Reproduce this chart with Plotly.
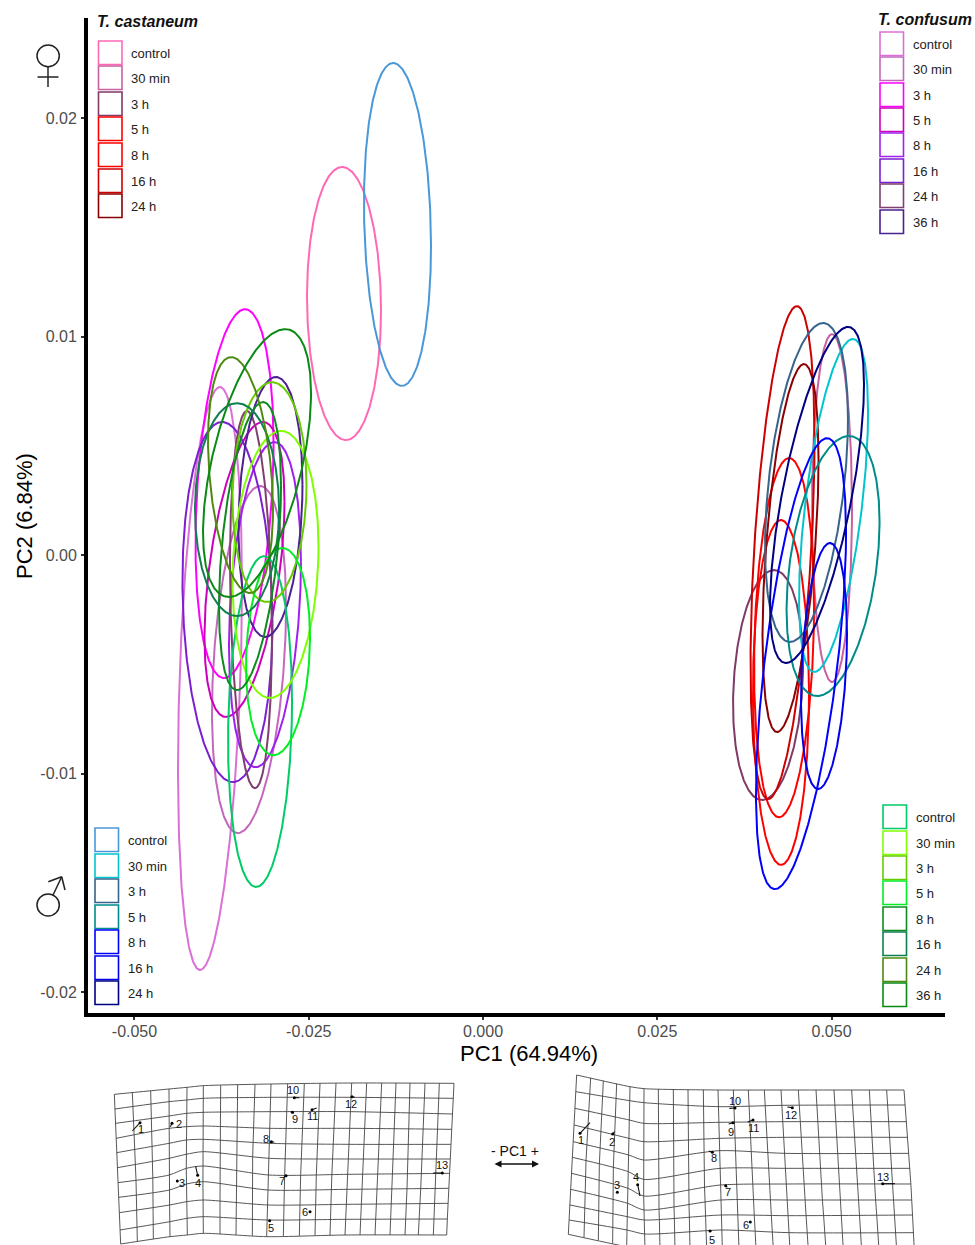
import numpy as np
import plotly.graph_objects as go

# ---------- ellipses (PC1 centre, PC2 centre, half width, half height, correlation, colour) ----------
names = ["Tcas control F","Tcas control M",
 "Tcon control","Tcon 30 min","Tcon 3 h","Tcon 5 h","Tcon 8 h","Tcon 16 h","Tcon 24 h","Tcon 36 h",
 "Tx control","Tx 30 min","Tx 3 h","Tx 5 h","Tx 8 h","Tx 16 h","Tx 24 h","Tx 36 h",
 "Tcas F 30 min","Tcas F 3 h","Tcas F 5 h","Tcas F 8 h","Tcas F 16 h","Tcas F 24 h",
 "Tcas M 30 min","Tcas M 3 h","Tcas M 5 h","Tcas M 8 h","Tcas M 16 h","Tcas M 24 h"]
pc1_centre = [-.01994,-.01227,
 -.03917,-.03357,-.03565,-.03422,-.03128,-.03666,-.03329,-.03049,
 -.03199,-.02977,-.03063,-.02941,-.03343,-.03529,-.03479,-.03242,
 .05007,.04089,.04319,.04275,.04297,.04412,
 .05029,.04641,.05022,.04562,.04892,.04792]
pc2_centre = [.01151,.01513,
 -.00565,-.00478,.00281,-.00066,-.00227,-.00215,-.00204,.00220,
 -.00762,-.00043,.00288,-.00442,.00041,.00208,.00366,.00421,
 .00215,-.00595,-.00378,-.00629,.00011,.00032,
 .00227,.00332,-.00050,-.00497,-.00508,.00275]
pc1_half = [.00531,.00481,
 .00459,.00531,.00560,.00574,.00516,.00646,.00301,.00459,
 .00459,.00617,.00531,.00459,.00445,.00603,.00466,.00775,
 .00287,.00502,.00430,.00402,.00459,.00402,
 .00495,.00595,.00667,.00646,.00330,.00674]
pc2_half = [.00625,.00739,
 .01334,.00794,.00844,.00675,.00744,.00824,.00863,.00595,
 .00757,.00611,.00503,.00474,.00659,.00487,.00540,.00613,
 .00796,.00526,.00822,.00789,.01128,.00842,
 .00762,.00730,.00595,.01032,.00563,.00769]
corr = [-.05,-.13,
 .31,.30,.27,.46,.26,-.12,-.19,.17,
 .12,.13,.07,.14,.42,0,-.29,.52,
 0,.17,.17,0,.45,.48,
 .56,.40,.34,.58,.26,.66]
PINK,SKY = "#FF69B4","#4A98D8"
TCON = ["#DA70D6","#C468BE","#FF00FF","#CC00BB","#A020F0","#7B1FD0","#7F4070","#4B2090"]
TX = ["#00CC66","#7FFF00","#66CC00","#00EE22","#0E8A1E","#0F7F50","#4E8A10","#0A8A14"]
TF = ["#C9609F","#7F3A66","#FF0000","#FF0000","#CC0000","#8B0000"]
TM = ["#00C5CD","#36648B","#008B8B","#0000FF","#0000EE","#000080"]
colours = [PINK,SKY]+TCON+TX+TF+TM

# ---------- axis ----------
x_ticks = [-.05,-.025,0,.025,.05]
x_labels = ["-0.050","-0.025","0.000","0.025","0.050"]
y_ticks = [-.02,-.01,0,.01,.02]
y_labels = ["-0.02","-0.01","0.00","0.01","0.02"]

# ---------- legends (title, labels, colours, box left, box tops, text x) ----------
FONT = "Liberation Sans"
legends = [
 ("T. castaneum",(95,21),["control","30 min","3 h","5 h","8 h","16 h","24 h"],[PINK]+TF,98.5,
  [41,66,92,117,143,169,194],129),
 ("T. confusum",(876,19),["control","30 min","3 h","5 h","8 h","16 h","24 h","36 h"],TCON,880,
  [32,57,83,108,133,159,184,210],911),
 ("",(0,0),["control","30 min","3 h","5 h","8 h","16 h","24 h"],[SKY]+TM,95,
  [828,854,879,905,930,956,981],126),
 ("",(0,0),["control","30 min","3 h","5 h","8 h","16 h","24 h","36 h"],TX,883,
  [805,831,856,881,907,932,958,983],914),
]

# ---------- deformation grids (in 3x crop coordinates of the panels) ----------
g1_off = (100,1060)
g1_top = [43,97,152,207,261,310,362,413,465,513,563,613,660,708,755,800,845,888,930,975,1018,1062]
g1_mid = [52,107,158,207,258,308,360,410,458,508,555,603,650,697,745,790,835,880,925,967,1010,1050]
g1_bot = [62,112,160,210,262,310,360,408,457,500,550,598,645,690,735,780,825,870,915,955,1000,1040]
g1_knots = [0,3,4,5,9,14,21]
g1_rows = [
 [103,87,82,77,72,69,70],
 [147,125,120,115,112,112,115],
 [190,168,160,157,155,155,162],
 [235,205,200,198,205,205,208],
 [278,250,240,238,250,253,253],
 [323,295,283,275,295,297,297],
 [368,345,325,318,345,343,340],
 [412,390,372,365,390,388,385],
 [458,435,425,420,435,433,430],
 [510,485,475,470,480,478,477],
 [552,530,525,520,530,525,525]]
g1_lm = [(120,188),(216,190),(232,363),(293,346),(509,482),(630,455),(558,347),(514,245),(577,157),(583,113),(636,149),(756,110),(1027,339)]
g1_vec = [(97,213),(211,200),(229,363),(287,319),(506,482),(630,455),(552,350),(523,247),(582,160),(598,113),(650,144),(764,112),(1000,339)]
g1_txt = [(122,208),(238,193),(247,369),(294,370),(513,504),(615,457),(545,364),(497,238),(585,176),(578,91),(637,167),(752,133),(1025,314)]

g2_off = (480,1060)
g2_top = [290,332,370,410,450,492,535,580,624,670,714,760,805,853,903,955,1008,1062,1115,1168,1220,1272]
g2_mid = [277,318,358,400,445,490,535,580,625,672,720,768,815,865,917,968,1020,1075,1130,1180,1235,1290]
g2_bot = [265,312,355,398,440,495,540,585,630,680,727,777,828,880,930,985,1038,1090,1145,1197,1250,1303]
g2_knots = [0,4,5,10,14,21]
g2_rows = [
 [45,80,86,90,90,90],
 [95,122,128,140,136,135],
 [145,180,190,187,185,185],
 [195,235,245,235,232,232],
 [245,285,300,272,280,280],
 [292,335,358,325,325,325],
 [340,385,408,375,372,372],
 [388,430,450,420,420,420],
 [435,470,480,465,467,465],
 [480,510,522,510,518,518],
 [523,560,568,565,570,570]]
g2_lm = [(300,220),(398,222),(412,397),(473,374),(690,513),(811,486),(737,377),(697,277),(759,188),(765,144),(819,180),(937,143),(1208,371)]
g2_vec = [(330,188),(404,215),(412,397),(480,408),(695,513),(811,486),(742,382),(686,273),(746,192),(748,145),(803,186),(922,141),(1245,371)]
g2_txt = [(304,240),(395,246),(411,374),(467,351),(695,540),(797,495),(744,397),(702,295),(754,215),(765,123),(820,205),(933,166),(1208,352)]

# ---------- sex symbols, drawn as line art ----------
female_circle = (37,45,59.3,66.7)
female_lines = [((48,67),(48,87)),((37.5,77),(58.5,77))]
male_circle = (37,894,59.3,916)
male_lines = [((52.7,895.7),(61.7,876.7)),((48.3,881.7),(61.7,876.7)),((61.7,876.7),(65,890))]

# ---------- build ----------
fig = go.Figure()
t = np.linspace(0,2*np.pi,361)
for n,cx,cy,rx,ry,r,c in zip(names,pc1_centre,pc2_centre,pc1_half,pc2_half,corr,colours):
    xs = cx+rx*np.cos(t)
    ys = cy+ry*(r*np.cos(t)+np.sqrt(1-r*r)*np.sin(t))
    fig.add_trace(go.Scatter(x=xs,y=ys,mode="lines",name=n,line=dict(color=c,width=2),hoverinfo="skip",showlegend=False))

GRID="#444444"
def add_grid(off,top,mid,bot,knots,rows,lm,vec,txt):
    ox,oy = off
    top,mid,bot = map(np.array,(top,mid,bot))
    nr = len(rows)
    rowpos = [0,(nr-1)/2,nr-1]
    cols = np.vstack([top,mid,bot])
    def colx(i,j):
        return np.interp(j,rowpos,cols[:,i])
    for j,row in enumerate(rows):
        xs=[ox+colx(i,j)/3 for i in knots]
        ys=[oy+v/3 for v in row]
        fig.add_trace(go.Scatter(x=xs,y=ys,xaxis="x2",yaxis="y2",mode="lines",
            line=dict(color=GRID,width=0.9,shape="spline",smoothing=0.7),hoverinfo="skip",showlegend=False))
    for i in range(len(top)):
        xs=[];ys=[]
        for j in range(nr):
            xs.append(ox+colx(i,j)/3)
            ys.append(oy+np.interp(i,knots,rows[j])/3)
        fig.add_trace(go.Scatter(x=xs,y=ys,xaxis="x2",yaxis="y2",mode="lines",
            line=dict(color=GRID,width=0.9),hoverinfo="skip",showlegend=False))
    for k,((x,y),(vx,vy),(tx,ty)) in enumerate(zip(lm,vec,txt)):
        fig.add_trace(go.Scatter(x=[ox+x/3,ox+vx/3],y=[oy+y/3,oy+vy/3],xaxis="x2",yaxis="y2",mode="lines",
            line=dict(color="#111111",width=1.1),hoverinfo="skip",showlegend=False))
        fig.add_annotation(x=ox+tx/3,y=oy+ty/3,xref="x2",yref="y2",text=str(k+1),showarrow=False,
            font=dict(family=FONT,size=11,color="#111111"))
    fig.add_trace(go.Scatter(x=[ox+p[0]/3 for p in lm],y=[oy+p[1]/3 for p in lm],xaxis="x2",yaxis="y2",mode="markers",
        marker=dict(color="#000000",size=3),hoverinfo="skip",showlegend=False))

add_grid(g1_off,g1_top,g1_mid,g1_bot,g1_knots,g1_rows,g1_lm,g1_vec,g1_txt)
add_grid(g2_off,g2_top,g2_mid,g2_bot,g2_knots,g2_rows,g2_lm,g2_vec,g2_txt)

shapes=[]
for title,tpos,labels,cols,left,tops,tx in legends:
    if title:
        fig.add_annotation(x=tpos[0],y=tpos[1],xref="x2",yref="y2",text="<b><i>%s</i></b>"%title,showarrow=False,
            xanchor="left",font=dict(family=FONT,size=16,color="#111111"))
    for lab,c,y in zip(labels,cols,tops):
        shapes.append(dict(type="rect",xref="x2",yref="y2",x0=left,x1=left+23.5,y0=y,y1=y+23.5,
            line=dict(color=c,width=1.6),fillcolor="white",layer="above"))
        fig.add_annotation(x=tx,y=y+12,xref="x2",yref="y2",text=lab,showarrow=False,xanchor="left",
            font=dict(family=FONT,size=13,color="#222222"))
for cc,ll in ((female_circle,female_lines),(male_circle,male_lines)):
    shapes.append(dict(type="circle",xref="x2",yref="y2",x0=cc[0],y0=cc[1],x1=cc[2],y1=cc[3],line=dict(color="#222222",width=1.5)))
    for a,b in ll:
        shapes.append(dict(type="line",xref="x2",yref="y2",x0=a[0],y0=a[1],x1=b[0],y1=b[1],line=dict(color="#222222",width=1.5)))

fig.add_annotation(x=529,y=1053,xref="x2",yref="y2",text="PC1 (64.94%)",showarrow=False,font=dict(family=FONT,size=22,color="#000000"))
fig.add_annotation(x=24,y=516,xref="x2",yref="y2",text="PC2 (6.84%)",textangle=-90,showarrow=False,font=dict(family=FONT,size=22,color="#000000"))
fig.add_annotation(x=515,y=1151,xref="x2",yref="y2",text="- PC1 +",showarrow=False,font=dict(family=FONT,size=14,color="#111111"))
fig.add_annotation(x=539,y=1164,ax=493,ay=1164,xref="x2",yref="y2",axref="x2",ayref="y2",text="",showarrow=True,
    arrowhead=2,arrowside="end+start",arrowsize=1,arrowwidth=1.4,arrowcolor="#111111")

W,H=975,1245
fig.update_layout(width=W,height=H,margin=dict(l=0,r=0,t=0,b=0),paper_bgcolor="white",plot_bgcolor="rgba(0,0,0,0)",
    shapes=shapes,showlegend=False,
    xaxis=dict(domain=[88/W,945/W],range=[-.05667,.06628],tickvals=x_ticks,ticktext=x_labels,showgrid=False,zeroline=False,
        showline=True,linecolor="black",linewidth=4,ticks="outside",ticklen=3,tickwidth=1.5,tickcolor="#333333",ticklabelstandoff=-2,
        tickfont=dict(family=FONT,size=16,color="#4d4d4d")),
    yaxis=dict(domain=[1-1013/H,1-18/H],range=[-.02096,.02458],tickvals=y_ticks,ticktext=y_labels,showgrid=False,zeroline=False,
        showline=True,linecolor="black",linewidth=4,ticks="outside",ticklen=3,tickwidth=1.5,tickcolor="#333333",ticklabelstandoff=1,
        tickfont=dict(family=FONT,size=16,color="#4d4d4d")),
    xaxis2=dict(domain=[0,1],range=[0,W],visible=False,anchor="y2",fixedrange=True),
    yaxis2=dict(domain=[0,1],range=[H,0],visible=False,anchor="x2",fixedrange=True),
)
fig.write_html("out.html",config=dict(displayModeBar=False),post_script="document.body.style.margin='0';document.body.style.overflow='hidden';")
